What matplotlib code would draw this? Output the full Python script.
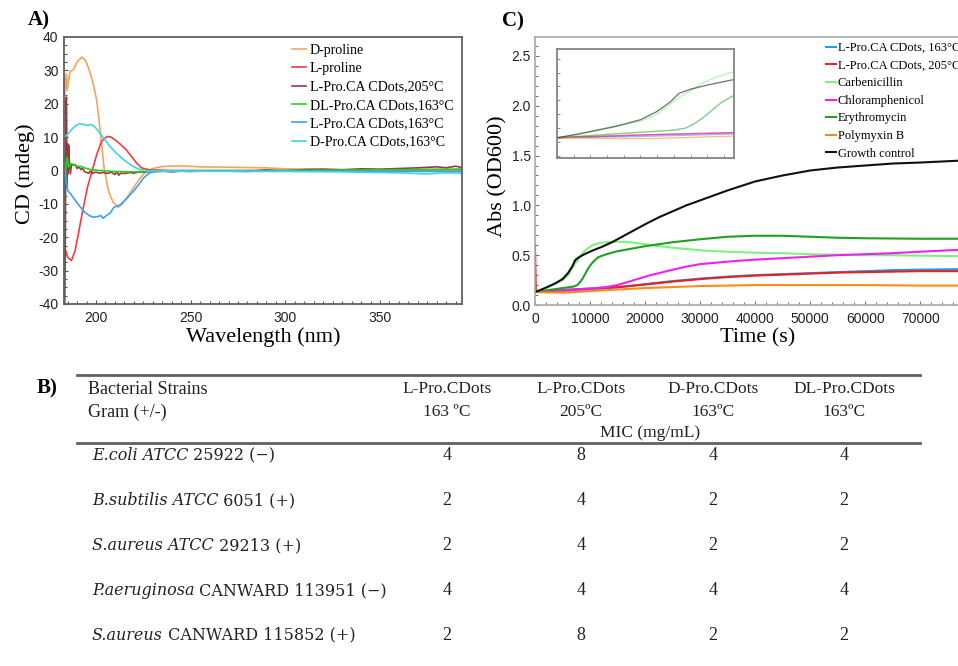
import numpy as np
import matplotlib
matplotlib.use('Agg')
import matplotlib.pyplot as plt
from matplotlib.ticker import MultipleLocator, FormatStrFormatter

plt.rcParams['axes.unicode_minus'] = False

W, H = 958, 666
SERIF = 'Liberation Serif'
SANS = 'Liberation Sans'

# ---------------- A) CD spectra ----------------
cd_labels = ['D-proline', 'L-proline', 'L-Pro.CA CDots,205°C', 'DL-Pro.CA CDots,163°C',
             'L-Pro.CA CDots,163°C', 'D-Pro.CA CDots,163°C']
cd_colors = ['#f5a35e', '#f03c3c', '#9a3a3a', '#22d422', '#3aa2f0', '#3cd6dc']

wl_dpro = [183.5, 184.3, 184.8, 185.5, 186.3, 188, 190, 192.4, 194.5, 196.5, 198.5, 200.4, 202.2,
           204.2, 206.5, 209, 211.8, 214, 217, 220, 223, 226, 230, 235, 245, 255, 270, 290, 300,
           320, 350, 393]
cd_dpro = [22, 29, 24, 27, 29.7, 30.2, 32.5, 34, 33, 30, 26, 21, 12, 1, -6, -9.5, -11, -10, -7.5,
           -5, -2.5, -0.5, 0.6, 1.2, 1.4, 1.1, 1.0, 0.8, 0.5, 0.3, 0.2, 0.1]

wl_lpro = [183.5, 185, 187, 189, 191, 193, 195.5, 198, 200.5, 203, 205.8, 208, 210.5, 213, 216,
           219, 221.5, 224, 228, 240, 300, 350, 393]
cd_lpro = [-23, -26, -27, -24, -18, -12, -5, 0, 5, 8.8, 10.2, 10, 9, 7.8, 6.2, 4, 2.2, 0.8, 0.2,
           0, 0, 0.2, 0.3]

wl_l205 = [183.5, 183.8, 184.1, 184.4, 184.7, 185, 185.3, 185.6, 186, 186.5, 187, 188, 189, 190,
           191, 192, 193, 194, 195, 196, 197, 198, 199, 200, 202, 204, 206, 208, 210, 211, 212,
           213, 215, 218, 220, 222, 225, 228, 232, 236, 240, 245, 250, 260, 270, 280, 290, 300,
           310, 320, 330, 340, 350, 360, 370, 380, 385, 390, 393]
cd_l205 = [-40, -20, 20, 22, -5, 8, -1, 7.5, 2, -1, 2, 1.5, 1.8, 0.6, 1.1, 0.3, 0.6, -0.4, -0.6,
           -0.8, -0.2, -0.9, -0.6, -0.5, -0.8, -0.6, -0.9, -0.5, -1.2, -0.4, -1.4, -0.8, -0.9,
           -0.6, -0.8, -0.5, -0.5, -0.3, -0.3, -0.2, -0.4, -0.2, -0.3, -0.1, -0.2, -0.3, 0.2,
           -0.2, 0.3, 0.4, 0.2, 0.5, 0.4, 0.6, 0.8, 1.1, 0.8, 1.3, 0.9]

wl_dl163 = [183.5, 184.2, 184.8, 185.5, 186.5, 188, 190, 192, 195, 198, 202, 210, 220, 240, 300,
            350, 393]
cd_dl163 = [-4, 2, 4, 1, 2, 1.8, 1.3, 1.2, 0.6, 0.2, 0, -0.3, -0.4, -0.2, 0, 0.2, 0.4]

wl_l163 = [183.5, 184.3, 185, 186.3, 188.5, 191.5, 194, 196.5, 198.6, 201, 202.5, 203.9, 205.5,
           207.4, 209.5, 212.7, 216, 219.7, 222.5, 225, 228, 232, 260, 330, 393]
cd_l163 = [2, -3, -6, -6.8, -8.5, -10.8, -12.5, -13.5, -14, -13.8, -13.5, -14.3, -13.5, -12.8,
           -11, -10.3, -8.5, -6.3, -4.3, -2.3, -0.8, -0.2, -0.2, -0.2, -0.3]

wl_d163 = [183.5, 186, 188, 190, 191.5, 193.5, 195.5, 197.5, 199.5, 202, 205, 207.4, 210, 212.7,
           216, 219.7, 223, 227, 250, 300, 330, 360, 375, 385, 393]
cd_d163 = [10, 11.5, 12.8, 13.7, 14, 13.8, 13.5, 13.8, 13, 11.2, 9, 7.2, 5.6, 4.2, 2.6, 1.2, 0.3,
           -0.1, -0.2, -0.3, -0.4, -0.7, -1.0, -0.7, -0.8]

# ---------------- C) growth curves ----------------
gc_labels = ['L-Pro.CA CDots, 163°C', 'L-Pro.CA CDots, 205°C', 'Carbenicillin',
             'Chloramphenicol', 'Erythromycin', 'Polymyxin B', 'Growth control']
gc_colors = ['#1e9cf0', '#e82020', '#80f080', '#f020f0', '#21a021', '#ff8a1c', '#111111']

t_l163 = [0, 5000, 10000, 15000, 20000, 25000, 30000, 35000, 40000, 45000, 50000, 55000, 60000,
          65000, 70000, 77600]
od_l163 = [0.13, 0.14, 0.155, 0.175, 0.21, 0.24, 0.265, 0.285, 0.30, 0.31, 0.32, 0.33, 0.34,
           0.35, 0.355, 0.36]

t_l205 = [0, 150, 5000, 10000, 15000, 20000, 25000, 30000, 35000, 40000, 45000, 50000, 55000,
          60000, 65000, 70000, 77600]
od_l205 = [0.60, 0.13, 0.15, 0.165, 0.18, 0.205, 0.235, 0.26, 0.28, 0.295, 0.305, 0.315, 0.325,
           0.33, 0.335, 0.34, 0.34]

t_carb = [0, 2400, 5000, 6000, 7300, 8000, 8800, 9600, 10600, 12000, 14000, 16000, 18000, 20000,
          22000, 25000, 28000, 31000, 35000, 40000, 45000, 50000, 55000, 60000, 65000, 70000,
          77600]
od_carb = [0.13, 0.18, 0.25, 0.30, 0.42, 0.47, 0.53, 0.57, 0.605, 0.625, 0.635, 0.635, 0.625,
           0.61, 0.595, 0.575, 0.56, 0.545, 0.535, 0.525, 0.52, 0.51, 0.505, 0.50, 0.50, 0.495,
           0.49]

t_chlor = [0, 5000, 10000, 13000, 15000, 18000, 21000, 24000, 27000, 30000, 33000, 36000, 40000,
           45000, 50000, 55000, 60000, 65000, 70000, 77600]
od_chlor = [0.13, 0.15, 0.165, 0.18, 0.20, 0.25, 0.30, 0.34, 0.38, 0.41, 0.425, 0.44, 0.455,
            0.47, 0.485, 0.50, 0.51, 0.52, 0.535, 0.555]

t_ery = [0, 2500, 5000, 7000, 7700, 8200, 8700, 9200, 9800, 10500, 11500, 13000, 15000, 18000,
         20000, 25000, 30000, 35000, 40000, 45000, 50000, 55000, 60000, 70000, 77600]
od_ery = [0.13, 0.15, 0.17, 0.185, 0.20, 0.23, 0.27, 0.32, 0.38, 0.43, 0.48, 0.51, 0.54, 0.57,
          0.59, 0.63, 0.66, 0.685, 0.695, 0.695, 0.685, 0.675, 0.67, 0.665, 0.665]

t_poly = [0, 3000, 6000, 10000, 15000, 20000, 25000, 30000, 35000, 40000, 50000, 60000, 70000,
          77600]
od_poly = [0.13, 0.125, 0.125, 0.14, 0.155, 0.17, 0.18, 0.19, 0.195, 0.20, 0.20, 0.20, 0.195,
           0.195]

t_ctrl = [0, 1200, 2400, 3600, 5000, 6000, 6800, 7300, 8000, 9000, 10600, 12000, 14000, 16000,
          18000, 20000, 22500, 25000, 27500, 30000, 35000, 40000, 45000, 50000, 55000, 60000,
          65000, 70000, 77600]
od_ctrl = [0.13, 0.155, 0.185, 0.215, 0.26, 0.32, 0.39, 0.45, 0.48, 0.51, 0.55, 0.58, 0.63, 0.69,
           0.75, 0.81, 0.88, 0.94, 1.00, 1.05, 1.15, 1.24, 1.30, 1.35, 1.38, 1.40, 1.42, 1.43,
           1.45]

# ---------------- B) MIC table ----------------
strain_species = ['E.coli ATCC', 'B.subtilis ATCC', 'S.aureus ATCC', 'P.aeruginosa', 'S.aureus']
strain_rest = [' 25922 (\u2212)', ' 6051 (+)', ' 29213 (+)', ' CANWARD 113951 (\u2212)',
               ' CANWARD 115852 (+)']
sample_names = ['L-Pro.CDots', 'L-Pro.CDots', 'D-Pro.CDots', 'DL-Pro.CDots']
sample_temps = ['163 ºC', '205ºC', '163ºC', '163ºC']
mic = [[4, 8, 4, 4],
       [2, 4, 2, 2],
       [2, 4, 2, 2],
       [4, 4, 4, 4],
       [2, 8, 2, 2]]


fig = plt.figure(figsize=(W / 100., H / 100.), dpi=100)


def px_axes(l, t, r, b):
    return fig.add_axes([l / float(W), 1 - b / float(H), (r - l) / float(W), (b - t) / float(H)])


def px(x, y):
    return x / float(W), 1 - y / float(H)


# ---- A ----
axA = px_axes(64, 37, 462, 304)
cd_x = [wl_dpro, wl_lpro, wl_l205, wl_dl163, wl_l163, wl_d163]
cd_y = [cd_dpro, cd_lpro, cd_l205, cd_dl163, cd_l163, cd_d163]
for i in range(len(cd_labels)):
    axA.plot(cd_x[i], cd_y[i], color=cd_colors[i], lw=1.2, label=cd_labels[i])
axA.set_xlim(183.1, 393.3)
axA.set_ylim(-40, 40)
axA.xaxis.set_major_locator(MultipleLocator(50))
axA.xaxis.set_minor_locator(MultipleLocator(5))
axA.yaxis.set_major_locator(MultipleLocator(10))
axA.yaxis.set_minor_locator(MultipleLocator(2.5))
axA.tick_params(which='both', direction='in', top=False, right=False, colors='#555555',
                labelcolor='#222222', labelsize=10, width=0.8)
axA.tick_params(which='major', length=3)
axA.tick_params(which='minor', length=2)
axA.tick_params(axis='x', pad=5)
axA.tick_params(axis='y', pad=4)
for lab in axA.get_xticklabels() + axA.get_yticklabels():
    lab.set_family(SANS)
for s in axA.spines.values():
    s.set_color('#606060')
    s.set_linewidth(1.3)
axA.set_xlabel('Wavelength (nm)', family=SERIF, fontsize=16, va='top')
axA.xaxis.set_label_coords(*px(263, 327), transform=fig.transFigure)
axA.set_ylabel('CD (mdeg)', family=SERIF, fontsize=16)
axA.yaxis.set_label_coords(*px(35, 174), transform=fig.transFigure)
axA.legend(loc='upper left', bbox_to_anchor=px(292, 44), bbox_transform=fig.transFigure,
           frameon=False, borderpad=0, borderaxespad=0, handlelength=1.0, handletextpad=0.25,
           labelspacing=0.38, prop={'family': SERIF, 'size': 10.1})

# ---- C ----
axC = px_axes(535, 37, 962, 305)
gc_x = [t_l163, t_l205, t_carb, t_chlor, t_ery, t_poly, t_ctrl]
gc_y = [od_l163, od_l205, od_carb, od_chlor, od_ery, od_poly, od_ctrl]
for i in range(len(gc_labels)):
    axC.plot(gc_x[i], gc_y[i], color=gc_colors[i], lw=1.5, label=gc_labels[i])
axC.set_xlim(0, 77600)
axC.set_ylim(0, 2.69)
axC.xaxis.set_major_locator(MultipleLocator(10000))
axC.xaxis.set_minor_locator(MultipleLocator(2000))
axC.yaxis.set_major_locator(MultipleLocator(0.5))
axC.yaxis.set_minor_locator(MultipleLocator(0.1))
axC.yaxis.set_major_formatter(FormatStrFormatter('%.1f'))
axC.tick_params(which='both', direction='in', top=False, right=False, colors='#777777',
                labelcolor='#222222', labelsize=10, width=0.8)
axC.tick_params(which='major', length=3)
axC.tick_params(which='minor', length=2)
axC.tick_params(axis='x', pad=5)
axC.tick_params(axis='y', pad=3)
for lab in axC.get_xticklabels() + axC.get_yticklabels():
    lab.set_family(SANS)
for s in axC.spines.values():
    s.set_color('#a8a8a8')
    s.set_linewidth(1.2)
axC.set_xlabel('Time (s)', family=SERIF, fontsize=16, va='top')
axC.xaxis.set_label_coords(*px(758, 328), transform=fig.transFigure)
axC.set_ylabel('Abs (OD600)', family=SERIF, fontsize=16)
axC.yaxis.set_label_coords(*px(507, 176), transform=fig.transFigure)
axC.legend(loc='upper left', bbox_to_anchor=px(826, 42), bbox_transform=fig.transFigure,
           frameon=False, borderpad=0, borderaxespad=0, handlelength=0.8, handletextpad=0.15,
           labelspacing=0.45, prop={'family': SERIF, 'size': 9})

# inset: early part of the growth curves
axI = px_axes(557, 49, 734, 158)
for i in range(len(gc_labels)):
    xs, ys = gc_x[i], gc_y[i]
    if i == 1:
        xs, ys = xs[1:], ys[1:]
    axI.plot(xs, ys, color=gc_colors[i], lw=1.0, alpha=0.55)
axI.set_xlim(0, 10600)
axI.set_ylim(-0.016, 0.77)
axI.xaxis.set_major_locator(MultipleLocator(1000))
axI.yaxis.set_major_locator(MultipleLocator(0.1))
axI.tick_params(direction='in', length=2, width=0.6, colors='#777777', labelbottom=False,
                labelleft=False, top=False, right=False)
for s in axI.spines.values():
    s.set_color('#7a7a7a')
    s.set_linewidth(1.2)

# panel letters
fig.text(*px(28, 20), 'A)', family=SERIF, fontsize=15, fontweight='bold', va='center')
fig.text(*px(502, 21), 'C)', family=SERIF, fontsize=15, fontweight='bold', va='center')
fig.text(*px(37, 388), 'B)', family=SERIF, fontsize=15, fontweight='bold', va='center')

# ---- B: table ----
tab = fig.add_axes([0, 0, 1, 1])
tab.set_xlim(0, W)
tab.set_ylim(H, 0)
tab.axis('off')
tab.plot([77, 920], [375, 375], color='#606060', lw=2)
tab.plot([77, 920], [443, 443], color='#606060', lw=2)

col_x = [447, 581, 713, 844]
tab.text(88, 389, 'Bacterial Strains', family=SERIF, fontsize=13, va='center', color='#222222')
tab.text(88, 412, 'Gram (+/-)', family=SERIF, fontsize=13, va='center', color='#222222')
for j in range(len(sample_names)):
    tab.text(col_x[j], 389, sample_names[j], family=SERIF, fontsize=12.5, ha='center',
             va='center', color='#222222')
    tab.text(col_x[j], 412, sample_temps[j], family=SERIF, fontsize=12.5, ha='center',
             va='center', color='#222222')
tab.text(650, 433, 'MIC (mg/mL)', family=SERIF, fontsize=12.5, ha='center', va='center',
         color='#222222')

row_y0, row_dy = 456, 44.8
for i in range(len(strain_species)):
    y = row_y0 + i * row_dy
    t1 = tab.text(92, y, strain_species[i], family='DejaVu Serif', style='italic',
                  fontsize=11.5, va='center', color='#222222')
    tab.annotate(strain_rest[i], xy=(1, 0), xycoords=t1, va='bottom', ha='left',
                 family='DejaVu Serif', fontsize=11.5, color='#222222')
    for j in range(len(col_x)):
        tab.text(col_x[j], y, str(mic[i][j]), family=SERIF, fontsize=13, ha='center',
                 va='center', color='#222222')

fig.savefig('out.png', dpi=100)
